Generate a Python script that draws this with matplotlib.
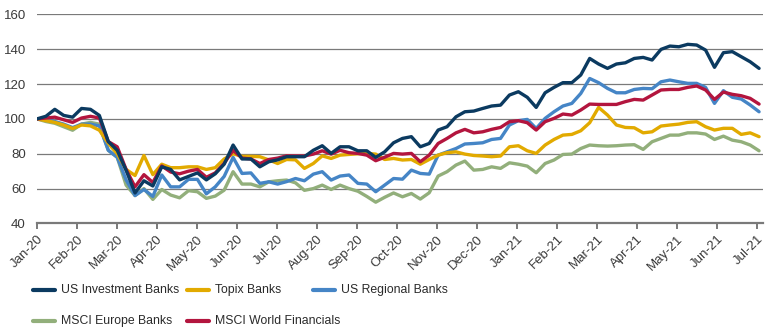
import numpy as np
import matplotlib
matplotlib.use("Agg")
import matplotlib.pyplot as plt
from matplotlib.lines import Line2D

plt.rcParams['font.family'] = ['Liberation Sans', 'DejaVu Sans']

# month labels on the x axis, one tick per month
months = ['Jan-20', 'Feb-20', 'Mar-20', 'Apr-20', 'May-20', 'Jun-20', 'Jul-20',
          'Aug-20', 'Sep-20', 'Oct-20', 'Nov-20', 'Dec-20', 'Jan-21', 'Feb-21',
          'Mar-21', 'Apr-21', 'May-21', 'Jun-21', 'Jul-21']

# weekly index levels, rebased to 100
us_investment = [100, 101.5, 105.5, 102, 101, 106, 105.5, 102, 87, 82, 70.5, 57.5, 64.5,
                 61.5, 72.5, 71, 65, 67, 69, 65, 68.5, 74, 85, 77, 77,
                 72.5, 75.4, 76.5, 78.3, 78.3, 78.3, 82, 84.6, 80.2, 84, 84, 81.7, 81.7,
                 77.9, 81.1, 86.3, 88.8, 89.8, 84, 85.9, 93.6, 95.5, 101.2, 104.1, 104.5,
                 106, 107.4, 107.9,
                 113.7, 115.6, 112.4, 106.6, 115, 118.1, 120.8, 120.8, 125.2, 134.7, 131.5,
                 129, 131.5, 132.2, 134.7, 135.3, 133.8, 139.9, 141.8, 141.4, 142.8, 142.4,
                 139.5, 129.6, 138, 138.6, 135.7, 132.8, 129]
topix = [100, 99, 98, 96.5, 94.5, 96.5, 96, 93.5, 86, 80, 71, 67.5, 79,
         68, 74, 72, 72, 72.5, 72.5, 71, 72, 77, 80, 78.5, 78.5,
         78.3, 76.5, 74.4, 76.7, 76.5, 71.6, 74.4, 78.8, 77.3, 79.2, 79.6, 80, 80.2,
         79.8, 76.7, 77.3, 76.4, 76.7, 74, 76.7, 79.2, 80.6, 81.1, 79.8, 79,
         78.7, 78.3, 78.7,
         84, 84.6, 81.7, 80.2, 85, 88.2, 90.7, 91.1, 93.2, 97.8, 106.6,
         102.2, 96.5, 95.1, 94.9, 92, 92.6, 95.9, 96.5, 97, 98, 98.4,
         95.5, 93.6, 94.6, 94.6, 91.1, 92, 89.8]
us_regional = [100, 99.5, 98.5, 97, 95, 97, 97, 96, 82, 78, 65, 56, 59.5,
               55.5, 67.8, 61, 61, 65.3, 65.3, 57, 61, 67, 77.9, 68.7, 69,
               63, 63.9, 62.6, 64, 65.8, 64.5, 68.3, 69.7, 64.9, 67.2, 67.8, 63, 62.6,
               58.2, 62, 65.8, 65.4, 70.6, 68.7, 68.3, 79.2, 81.1, 83, 85.6, 85.9,
               86.3, 88.2, 88.8,
               96.5, 99, 99.7, 94.5, 100.3, 104.1, 107.4, 108.9, 114.6, 123.2, 120.8,
               117.5, 115, 115, 116.9, 117.5, 117.3, 121.3, 122.3, 121.3, 120.4, 120.4,
               118.1, 108.9, 116.2, 112.4, 111.4, 108, 104.1]
europe = [100, 98.5, 97.5, 95.5, 93.5, 97, 98, 97, 82, 78, 62, 56, 60,
          53.8, 59.5, 56.3, 54.7, 58.8, 58.2, 54.4, 55.7, 59.1, 69.7, 62.6, 62.6,
          61, 63.9, 64.5, 64.9, 63.3, 59, 60, 62, 59.5, 62, 60, 58.5, 55.5,
          52.2, 55, 57.5, 55.3, 57.2, 54, 57.6, 67.2, 69.7, 73.5, 75.8, 70.6,
          71, 72.5, 71.6,
          74.8, 74, 72.9, 69.1, 74.4, 76.4, 79.6, 79.8, 83, 85, 84.6,
          84.4, 84.6, 85, 85.2, 82.5, 86.9, 88.8, 90.7, 90.7, 92, 92,
          91.3, 88.2, 90.1, 87.8, 86.9, 85, 81.7]
world_fin = [100, 100.5, 101, 99.5, 98, 100.5, 101.5, 100.5, 87, 84, 71, 61, 68,
             63.5, 73, 69.5, 68.5, 70, 71, 66.5, 69, 74.5, 82, 77.5, 77,
             74.4, 76.7, 77.5, 78.8, 78.7, 78.7, 79.8, 81.7, 79.8, 82, 80.6, 80.2, 79.2,
             76, 78, 80.2, 79.8, 80.2, 75.4, 79.2, 85.9, 88.8, 92, 94, 92,
             92.6, 94, 95.1,
             98.4, 99, 97.8, 93.6, 98.4, 100.3, 102.8, 102.2, 105.1, 108.5, 108.3,
             108.3, 108.3, 109.9, 111.2, 110.8, 113.7, 116.6, 116.9, 116.9, 118.1, 118.9,
             116.6, 111.2, 115.4, 114.1, 113.3, 111.8, 108.5]

names = ['US Investment Banks', 'Topix Banks', 'US Regional Banks',
         'MSCI Europe Banks', 'MSCI World Financials']
series = [us_investment, topix, us_regional, europe, world_fin]
colors = ['#0b3a60', '#e2aa00', '#4585c6', '#92af7b', '#b3153e']

# weeks spread evenly over the months (x in month units)
n = len(us_investment)
x = np.arange(n) * 18.05 / (n - 1)

fig = plt.figure(figsize=(7.7, 3.34), dpi=100)
ax = fig.add_axes([0.048, 0.331, 0.943, 0.626])

draw_order = [3, 2, 1, 4, 0]
for k in draw_order:
    ax.plot(x, series[k], color=colors[k], lw=2.4, solid_joinstyle='round',
            solid_capstyle='round', zorder=3)

ax.set_xlim(0, 18.15)
ax.set_ylim(40, 160)
ax.set_yticks(np.arange(40, 161, 20))
ax.set_xticks(np.arange(len(months)))
ax.set_xticklabels(months, rotation=45, ha='right', rotation_mode='anchor')
ax.yaxis.grid(True, color='#7a7a7a', lw=0.9)
ax.set_axisbelow(True)

for s in ['top', 'right', 'left']:
    ax.spines[s].set_visible(False)
ax.spines['bottom'].set_color('#7a7a7a')
ax.spines['bottom'].set_linewidth(1.6)
ax.tick_params(axis='x', colors='#7a7a7a', length=4, width=1.4, labelcolor='#3a3a3a',
               labelsize=9.5, pad=3)
ax.tick_params(axis='y', length=0, labelcolor='#3a3a3a', labelsize=9.5, pad=8)

# legend in two rows below the chart
rows = [[(0, 33), (1, 187), (2, 313)], [(3, 33), (4, 187)]]
row_y = [290, 321]
for r, items in enumerate(rows):
    yf = 1 - row_y[r] / 334
    for k, xp in items:
        fig.add_artist(Line2D([xp / 770, (xp + 22) / 770], [yf, yf], color=colors[k],
                              lw=3, solid_capstyle='round', transform=fig.transFigure))
        fig.text((xp + 28) / 770, yf, names[k], va='center', ha='left',
                 fontsize=8.8, color='#2a2a2a')

fig.savefig('out.png', dpi=100)
